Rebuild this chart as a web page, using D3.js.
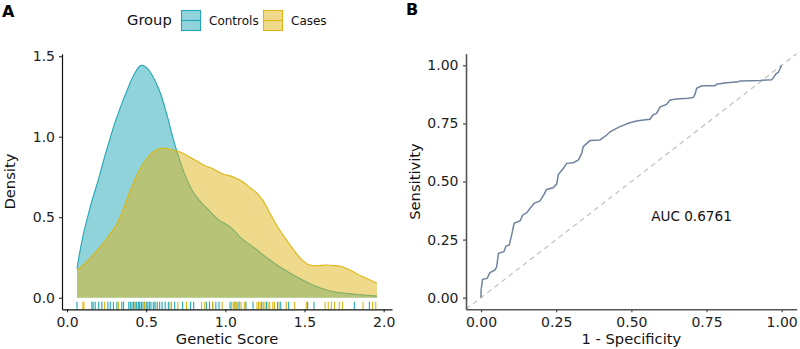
<!DOCTYPE html>
<html>
<head>
<meta charset="utf-8">
<script src="https://cdn.jsdelivr.net/npm/d3@7"></script>
<style>
  body { margin: 0; background: #fff; }
  text { font-family: "DejaVu Sans", sans-serif; }
</style>
</head>
<body>
<svg id="chart" width="800" height="349"></svg>
<script>
// panel A: kernel density of the genetic score [score, density]
const controlsDensity = [
  [0.063, 0.18], [0.08, 0.28], [0.10, 0.38], [0.13, 0.50], [0.16, 0.61], [0.20, 0.74],
  [0.23, 0.85], [0.26, 0.95], [0.30, 1.08], [0.34, 1.19], [0.38, 1.29], [0.42, 1.38], [0.47, 1.443],
  [0.52, 1.41], [0.56, 1.34], [0.59, 1.27], [0.63, 1.14], [0.67, 0.99], [0.72, 0.83],
  [0.79, 0.667], [0.84, 0.60], [0.90, 0.54], [0.95, 0.49], [1.03, 0.44], [1.10, 0.37],
  [1.175, 0.316], [1.26, 0.25], [1.343, 0.192], [1.45, 0.13], [1.553, 0.079], [1.65, 0.045],
  [1.763, 0.027], [1.86, 0.018], [1.958, 0.01]
]
const casesDensity = [
  [0.063, 0.17], [0.10, 0.20], [0.15, 0.25], [0.21, 0.316], [0.26, 0.38], [0.315, 0.46],
  [0.36, 0.56], [0.40, 0.667], [0.45, 0.78], [0.50, 0.86], [0.55, 0.91], [0.61, 0.93],
  [0.66, 0.92], [0.714, 0.905], [0.80, 0.86], [0.87, 0.82], [0.923, 0.80], [0.98, 0.77],
  [1.05, 0.75], [1.11, 0.72], [1.16, 0.68], [1.20, 0.65], [1.24, 0.60], [1.29, 0.51],
  [1.343, 0.42], [1.40, 0.34], [1.448, 0.275], [1.49, 0.23], [1.532, 0.203], [1.58, 0.198],
  [1.637, 0.203], [1.68, 0.20], [1.72, 0.197], [1.77, 0.18], [1.826, 0.151], [1.89, 0.12],
  [1.958, 0.089]
]
// rug: individual scores
const controlsScores = [0.063, 0.157, 0.165, 0.178, 0.2, 0.22, 0.258, 0.273, 0.293, 0.315, 0.346, 0.357,
  0.39, 0.4, 0.41, 0.42, 0.43, 0.44, 0.45, 0.455, 0.46, 0.47, 0.48, 0.49, 0.5, 0.51, 0.52, 0.53,
  0.545, 0.555, 0.57, 0.585, 0.6, 0.62, 0.64, 0.68, 0.73, 0.78, 0.8, 0.88, 0.9, 0.92, 0.94, 0.96,
  1.03, 1.06, 1.08, 1.09, 1.13, 1.175, 1.23, 1.26, 1.33, 1.35, 1.4, 1.52, 1.56, 1.815, 1.91]
const casesScores = [0.1, 0.107, 0.237, 0.325, 0.43, 0.49, 0.56, 0.65, 0.66, 0.7, 0.755, 0.85, 0.87,
  0.92, 0.98, 1.04, 1.05, 1.06, 1.07, 1.09, 1.1, 1.12, 1.2, 1.21, 1.22, 1.24, 1.25, 1.27, 1.28, 1.3,
  1.31, 1.34, 1.385, 1.438, 1.511, 1.63, 1.65, 1.67, 1.69, 1.72, 1.74, 1.87, 1.93, 1.95]

// panel B: ROC curve [1 - specificity, sensitivity]
const rocPoints = [
  [0, 0], [0, 0.03], [0.005, 0.079], [0.02, 0.083], [0.03, 0.108], [0.047, 0.119], [0.052, 0.133],
  [0.058, 0.191], [0.076, 0.198], [0.083, 0.222], [0.094, 0.227], [0.102, 0.27], [0.11, 0.32],
  [0.13, 0.331], [0.139, 0.356], [0.152, 0.366], [0.166, 0.389], [0.177, 0.406], [0.196, 0.416],
  [0.21, 0.446], [0.218, 0.466], [0.24, 0.473], [0.252, 0.49], [0.257, 0.53], [0.274, 0.557],
  [0.285, 0.578], [0.307, 0.581], [0.324, 0.593], [0.335, 0.621], [0.34, 0.65], [0.352, 0.664],
  [0.362, 0.676], [0.396, 0.679], [0.418, 0.70], [0.429, 0.714], [0.462, 0.736], [0.495, 0.753],
  [0.518, 0.76], [0.54, 0.765], [0.562, 0.768], [0.571, 0.786], [0.584, 0.793], [0.595, 0.82],
  [0.617, 0.832], [0.629, 0.851], [0.651, 0.855], [0.69, 0.858], [0.706, 0.862], [0.712, 0.876],
  [0.717, 0.901], [0.734, 0.912], [0.778, 0.912], [0.784, 0.919], [0.817, 0.925], [0.856, 0.929],
  [0.861, 0.933], [0.928, 0.935], [0.967, 0.938], [0.972, 0.946], [0.981, 0.963], [0.989, 0.97],
  [0.994, 0.984], [1, 1]
]
const aucLabel = "AUC 0.6761"
const aucPos = [0.7, 0.35]

const groups = ["Controls", "Cases"]
const groupColors = ["#21A7B7", "#DDB515"]
const densityTicks = [0, 0.5, 1, 1.5]
const scoreTicks = [0, 0.5, 1, 1.5, 2]
const rocTicks = [0, 0.25, 0.5, 0.75, 1]

const svg = d3.select("#chart")

// ggplot style 5% padding of the data range
const expand = ([lo, hi]) => [lo - 0.05 * (hi - lo), hi + 0.05 * (hi - lo)]

const styleAxis = (g, col, w) => {
  g.select(".domain").attr("stroke", col).attr("stroke-width", w)
  g.selectAll(".tick line").attr("stroke", col).attr("stroke-width", w * 0.8)
  g.selectAll(".tick text").attr("fill", "#222").style("font-size", "14px")
    .style("font-family", "DejaVu Sans")
}

//---------------- panel A ----------------
const pA = { left: 62, right: 392, top: 53.8, bottom: 309.3 }
const allDens = controlsDensity.concat(casesDensity)

const xA = d3.scaleLinear()
  .domain(expand(d3.extent(allDens, d => d[0])))
  .range([pA.left, pA.right])
const yA = d3.scaleLinear()
  .domain(expand([0, d3.max(allDens, d => d[1])]))
  .range([pA.bottom, pA.top])

const area = d3.area()
  .x(d => xA(d[0])).y0(yA(0)).y1(d => yA(d[1]))
  .curve(d3.curveMonotoneX)
const topLine = d3.line()
  .x(d => xA(d[0])).y(d => yA(d[1]))
  .curve(d3.curveMonotoneX)

;[controlsDensity, casesDensity].forEach((dens, i) => {
  svg.append("path").attr("d", area(dens))
    .attr("fill", groupColors[i]).attr("fill-opacity", 0.5)
  svg.append("path").attr("d", topLine(dens))
    .attr("fill", "none").attr("stroke", groupColors[i]).attr("stroke-width", 1.1)
})

// rug, 3% of the panel height
const rugLen = (pA.bottom - pA.top) * 0.03
;[controlsScores, casesScores].forEach((scores, i) => {
  svg.append("g").selectAll("line")
    .data(scores)
    .enter().append("line")
    .attr("x1", d => xA(d)).attr("x2", d => xA(d))
    .attr("y1", pA.bottom - rugLen).attr("y2", pA.bottom)
    .attr("stroke", groupColors[i]).attr("stroke-width", 1.1)
})

svg.append("g")
  .attr("transform", `translate(0,${pA.bottom})`)
  .call(d3.axisBottom(xA).tickValues(scoreTicks).tickFormat(d3.format(".1f"))
    .tickSize(3).tickSizeOuter(0).tickPadding(5))
  .call(g => styleAxis(g, "#111", 1.2))
svg.append("g")
  .attr("transform", `translate(${pA.left},0)`)
  .call(d3.axisLeft(yA).tickValues(densityTicks).tickFormat(d3.format(".1f"))
    .tickSize(3).tickSizeOuter(0).tickPadding(4))
  .call(g => styleAxis(g, "#111", 1.2))

svg.append("text")
  .attr("x", (pA.left + pA.right) / 2).attr("y", 344)
  .attr("text-anchor", "middle").style("font-size", "14.7px").attr("fill", "#111")
  .text("Genetic Score")
svg.append("text")
  .attr("transform", `translate(15,${(pA.top + pA.bottom) / 2}) rotate(-90)`)
  .attr("text-anchor", "middle").style("font-size", "14.7px").attr("fill", "#111")
  .text("Density")

// legend
const legend = svg.append("g")
legend.append("text").attr("x", 127).attr("y", 25)
  .style("font-size", "14.7px").attr("fill", "#111").text("Group")
const keyX = [181, 263]
groups.forEach((name, i) => {
  const k = legend.append("g").attr("transform", `translate(${keyX[i]},10)`)
  k.append("rect").attr("x", 0.5).attr("y", 0.5).attr("width", 19).attr("height", 20)
    .attr("fill", groupColors[i]).attr("fill-opacity", 0.5)
    .attr("stroke", groupColors[i]).attr("stroke-width", 1.1)
  k.append("line").attr("x1", 0.5).attr("x2", 19.5).attr("y1", 10.5).attr("y2", 10.5)
    .attr("stroke", groupColors[i]).attr("stroke-width", 1.1)
  k.append("text").attr("x", 28).attr("y", 15)
    .style("font-size", "12px").attr("fill", "#111").text(name)
})

svg.append("text").attr("x", 2).attr("y", 17)
  .style("font-size", "16px").style("font-weight", "bold").attr("fill", "#000").text("A")

//---------------- panel B ----------------
const pB = { left: 466, right: 796.7, top: 53.7, bottom: 309.3 }
const xB = d3.scaleLinear().domain(expand([0, 1])).range([pB.left, pB.right])
const yB = d3.scaleLinear().domain(expand([0, 1])).range([pB.bottom, pB.top])

const diag = xB.domain()
svg.append("line")
  .attr("x1", xB(diag[0])).attr("y1", yB(diag[0]))
  .attr("x2", xB(diag[1])).attr("y2", yB(diag[1]))
  .attr("stroke", "#c4c4c4").attr("stroke-width", 1.3).attr("stroke-dasharray", "5,4")

svg.append("path")
  .attr("d", d3.line().x(d => xB(d[0])).y(d => yB(d[1]))(rocPoints))
  .attr("fill", "none").attr("stroke", "#6f849c").attr("stroke-width", 1.5)

svg.append("text")
  .attr("x", xB(aucPos[0])).attr("y", yB(aucPos[1])).attr("dy", "0.35em")
  .attr("text-anchor", "middle").style("font-size", "13.6px").attr("fill", "#111")
  .text(aucLabel)

svg.append("g")
  .attr("transform", `translate(0,${pB.bottom})`)
  .call(d3.axisBottom(xB).tickValues(rocTicks).tickFormat(d3.format(".2f"))
    .tickSize(3).tickSizeOuter(0).tickPadding(5))
  .call(g => styleAxis(g, "#555", 1.6))
svg.append("g")
  .attr("transform", `translate(${pB.left},0)`)
  .call(d3.axisLeft(yB).tickValues(rocTicks).tickFormat(d3.format(".2f"))
    .tickSize(3).tickSizeOuter(0).tickPadding(4.5))
  .call(g => styleAxis(g, "#555", 1.6))

svg.append("text")
  .attr("x", (pB.left + pB.right) / 2).attr("y", 344)
  .attr("text-anchor", "middle").style("font-size", "14.7px").attr("fill", "#111")
  .text("1 - Specificity")
svg.append("text")
  .attr("transform", `translate(420,${(pB.top + pB.bottom) / 2}) rotate(-90)`)
  .attr("text-anchor", "middle").style("font-size", "14.7px").attr("fill", "#111")
  .text("Sensitivity")

svg.append("text").attr("x", 406).attr("y", 15)
  .style("font-size", "16px").style("font-weight", "bold").attr("fill", "#000").text("B")
</script>
</body>
</html>
